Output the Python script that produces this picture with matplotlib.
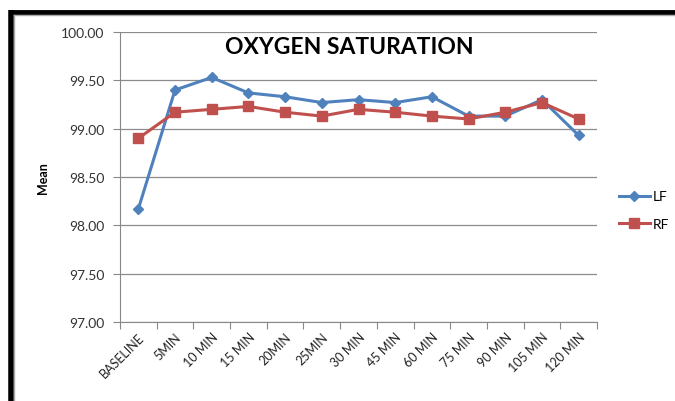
import matplotlib
matplotlib.use("Agg")
from matplotlib import pyplot as plt
from matplotlib.lines import Line2D

categories = ['BASELINE', '5MIN', '10 MIN', '15 MIN', '20MIN', '25MIN', '30 MIN',
              '45 MIN', '60 MIN', '75 MIN', '90 MIN', '105 MIN', '120 MIN']
lf = [98.17, 99.40, 99.53, 99.37, 99.33, 99.27, 99.30, 99.27, 99.33, 99.13, 99.13, 99.30, 98.93]
rf = [98.90, 99.17, 99.20, 99.23, 99.17, 99.13, 99.20, 99.17, 99.13, 99.10, 99.17, 99.27, 99.10]
yticks = [97.0, 97.5, 98.0, 98.5, 99.0, 99.5, 100.0]

plt.rcParams['font.family'] = ['Lato', 'DejaVu Sans']

fig = plt.figure(figsize=(6.75, 4.02), dpi=100)
ax = fig.add_axes([120 / 675, 1 - 323 / 402, 477 / 675, 290 / 402])

x = range(len(categories))
ax.plot(x, lf, color='#4F81BD', lw=2.2, marker='D', ms=5, label='LF')
ax.plot(x, rf, color='#C0504D', lw=2.2, marker='s', ms=7, label='RF')

ax.set_xlim(-0.5, len(categories) - 0.5)
ax.set_ylim(97, 100)
ax.set_yticks(yticks)
ax.set_yticklabels(['%.2f' % v for v in yticks], fontsize=10, color='#333333')
ax.set_xticks([i - 0.5 for i in range(len(categories) + 1)], minor=False)
ax.set_xticklabels([])
ax.set_xticks(list(x), minor=True)
ax.set_xticklabels(categories, minor=True, rotation=45, ha='right', rotation_mode='anchor',
                   fontsize=9, color='#222222')
ax.tick_params(axis='x', which='minor', length=0, pad=6)
ax.tick_params(axis='x', which='major', length=5, color='#888888', direction='out')
ax.tick_params(axis='y', length=5, color='#888888', direction='out', pad=6)

ax.grid(axis='y', color='#8c8c8c', lw=0.9)
ax.set_axisbelow(True)
for s in ['top', 'right']:
    ax.spines[s].set_visible(False)
for s in ['left', 'bottom']:
    ax.spines[s].set_color('#888888')

ax.set_ylabel('Mean', fontsize=9, fontweight='bold', labelpad=9)
ax.text(0.48, 0.985, 'OXYGEN SATURATION', transform=ax.transAxes, ha='center', va='top',
        fontsize=16.5, fontweight='bold')

handles = [Line2D([], [], color='#4F81BD', lw=2.2, marker='D', ms=5),
           Line2D([], [], color='#C0504D', lw=2.2, marker='s', ms=7)]
fig.legend(handles, ['LF', 'RF'], loc='center left', bbox_to_anchor=(619 / 675, 1 - 211 / 402),
           frameon=False, fontsize=10, handlelength=2.2, labelspacing=1.1, handletextpad=0.25,
           borderaxespad=0, borderpad=0)

# frame drawn around the chart
fig.add_artist(Line2D([10.5 / 675, 10.5 / 675], [0, 1 - 11 / 402], color='black', lw=4,
                      transform=fig.transFigure, solid_capstyle='butt'))
fig.add_artist(Line2D([8.5 / 675, 1], [1 - 13 / 402, 1 - 13 / 402], color='black', lw=3.5,
                      transform=fig.transFigure, solid_capstyle='butt'))
fig.add_artist(Line2D([14.5 / 675, 14.5 / 675], [0, 1 - 15.5 / 402], color='#aaaaaa', lw=1,
                      transform=fig.transFigure))
fig.add_artist(Line2D([14.5 / 675, 1], [1 - 15.5 / 402, 1 - 15.5 / 402], color='#aaaaaa', lw=1,
                      transform=fig.transFigure))

fig.savefig('out.png', dpi=100)
